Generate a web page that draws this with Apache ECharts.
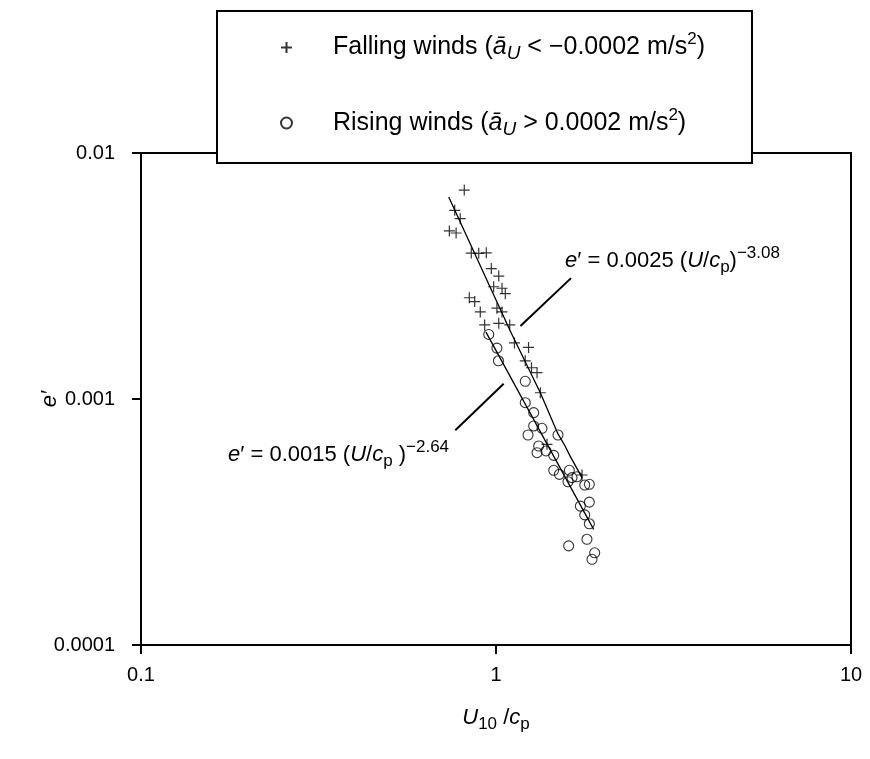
<!DOCTYPE html>
<html><head><meta charset="utf-8">
<script src="https://cdn.jsdelivr.net/npm/echarts@6/dist/echarts.min.js"></script>
<style>html,body{margin:0;padding:0;background:#fff}#c{width:870px;height:759px}</style>
</head><body><div id="c"></div>
<script>
// ---- data ----
const xTickLabels = ['0.1', '1', '10'];
const yTickLabels = ['0.0001', '0.001', '0.01'];

const fallingX = [0.814,0.765,0.793,0.739,0.772,0.852,0.894,0.939,0.970,1.018,0.985,1.040,1.062,0.841,0.871,0.903,1.006,1.040,0.929,1.018,1.093,1.127,1.235,1.209,1.259,1.305,1.333,1.392,1.747];
const fallingY = [0.00707,0.00585,0.00541,0.00482,0.00473,0.00392,0.00391,0.00393,0.00339,0.00316,0.00286,0.00282,0.00268,0.00258,0.00249,0.00226,0.00234,0.00226,0.00200,0.00203,0.00200,0.00169,0.00162,0.00143,0.00134,0.00128,0.00106,0.000654,0.000491];

const risingX = [0.954,1.006,1.016,1.209,1.209,1.277,1.277,1.348,1.231,1.319,1.305,1.383,1.454,1.495,1.454,1.508,1.609,1.595,1.637,1.691,1.778,1.832,1.832,1.728,1.778,1.832,1.804,1.602,1.897,1.864];
const risingY = [0.00183,0.00161,0.00143,0.00118,0.000966,0.00088,0.000777,0.00076,0.000714,0.000644,0.000605,0.000615,0.00059,0.000714,0.000513,0.000494,0.000513,0.000461,0.000479,0.000483,0.000447,0.00045,0.000381,0.000367,0.000338,0.000311,0.000269,0.000253,0.000237,0.000223];

const fallingFitX = [0.736,1.097,1.333,1.495,1.565,1.616,1.747];
const fallingFitY = [0.00663,0.00189,0.00106,0.000721,0.000644,0.000587,0.000479];
const risingFitX = [0.937,1.884];
const risingFitY = [0.00187,0.000295];

const leaderUpperX = [1.172,1.627];
const leaderUpperY = [0.00198,0.0031];
const leaderLowerX = [0.768,1.051];
const leaderLowerY = [0.000746,0.001154];

// ---- chart ----
const zip = (a, b) => a.map((v, i) => [v, b[i]]);
const FF = 'Liberation Sans';
const tickIdx = v => Math.round(Math.log10(v));

function rs(size, italic, pad) {
  const o = { fontFamily: FF, fontSize: size, fontStyle: italic ? 'italic' : 'normal', color: '#000', fill: '#000' };
  if (pad) o.padding = pad;
  return o;
}

const legendRich = {
  b: rs(25, false),
  it: rs(25, true),
  sub: rs(19, true, [13, 0, 0, 0]),
  sup: rs(17, false, [0, 0, 16, 0])
};
const legendText = {
  'Falling winds': '{b|Falling winds (}{it|ā}{sub|U}{b| < −0.0002 m/s}{sup|2}{b|)}',
  'Rising winds': '{b|Rising winds (}{it|ā}{sub|U}{b| > 0.0002 m/s}{sup|2}{b|)}'
};

const annRich = {
  b: rs(22, false),
  it: rs(22, true),
  sub: rs(17, false, [12, 0, 0, 0]),
  sup: rs(17, false, [0, 0, 16, 0])
};

const chart = echarts.init(document.getElementById('c'), null, { renderer: 'canvas' });
chart.setOption({
  animation: false,
  backgroundColor: '#fff',
  grid: { left: 141, right: 19, top: 153, bottom: 114, show: true, borderColor: '#000', borderWidth: 2, backgroundColor: 'transparent' },
  xAxis: {
    type: 'log', logBase: 10, min: 0.1, max: 10,
    name: '{it|U}{sub|10}{b| /}{it|c}{sub|p}',
    nameLocation: 'middle', nameGap: 58,
    nameTextStyle: { lineHeight: 30, rich: { b: rs(22, false), it: rs(22, true), sub: rs(17, false, [12, 0, 0, 0]) } },
    axisLine: { show: true, lineStyle: { color: '#000', width: 2 } },
    axisTick: { show: true, inside: false, length: 9, lineStyle: { color: '#000', width: 2 } },
    minorTick: { show: false },
    splitLine: { show: false },
    axisLabel: { fontFamily: FF, fontSize: 20, color: '#000', margin: 20, formatter: v => xTickLabels[tickIdx(v) + 1] }
  },
  yAxis: {
    type: 'log', logBase: 10, min: 0.0001, max: 0.01,
    name: 'e′', nameLocation: 'middle', nameGap: 80, nameRotate: 90, nameMoveOverlap: false,
    nameTextStyle: { fontFamily: FF, fontSize: 22, fontStyle: 'italic', color: '#000' },
    axisLine: { show: true, lineStyle: { color: '#000', width: 2 } },
    axisTick: { show: true, inside: false, length: 9, lineStyle: { color: '#000', width: 2 } },
    minorTick: { show: false },
    splitLine: { show: false },
    axisLabel: { fontFamily: FF, fontSize: 20, color: '#000', margin: 26, formatter: v => yTickLabels[tickIdx(v) + 4] }
  },
  legend: {
    data: ['Falling winds', 'Rising winds'],
    orient: 'vertical', left: 275, top: 26,
    itemWidth: 11, itemHeight: 11, itemGap: 43,
    selectedMode: false, z: 20,
    formatter: n => legendText[n],
    textStyle: { fontFamily: FF, fontSize: 25, color: '#000', lineHeight: 30, padding: [0, 0, 0, 36], rich: legendRich }
  },
  graphic: [
    { type: 'rect', z: 10, shape: { x: 217, y: 11, width: 535, height: 152 }, style: { fill: '#fff', stroke: '#000', lineWidth: 2 } },
    { type: 'text', z: 10, x: 565, y: 261,
      style: { text: '{it|e}{b|′ = 0.0025 (}{it|U}{b|/}{it|c}{sub|p}{b|)}{sup|−3.08}', rich: annRich, fontFamily: FF, fontSize: 22, fill: '#000', lineHeight: 30, verticalAlign: 'middle', textVerticalAlign: 'middle', align: 'left', textAlign: 'left' } },
    { type: 'text', z: 10, x: 228, y: 455,
      style: { text: '{it|e}{b|′ = 0.0015 (}{it|U}{b|/}{it|c}{sub|p}{b| )}{sup|−2.64}', rich: annRich, fontFamily: FF, fontSize: 22, fill: '#000', lineHeight: 30, verticalAlign: 'middle', textVerticalAlign: 'middle', align: 'left', textAlign: 'left' } }
  ],
  series: [
    { name: 'Falling winds', type: 'scatter', data: zip(fallingX, fallingY),
      symbol: 'path://M0,5L10,5M5,0L5,10', symbolKeepAspect: true, symbolSize: 11,
      itemStyle: { color: 'rgba(0,0,0,0)', borderColor: '#000', borderWidth: 1.2 }, z: 4 },
    { name: 'Rising winds', type: 'scatter', data: zip(risingX, risingY),
      symbol: 'circle', symbolSize: 10,
      itemStyle: { color: 'rgba(0,0,0,0)', borderColor: '#000', borderWidth: 1.1 }, z: 4 },
    { type: 'line', data: zip(fallingFitX, fallingFitY), showSymbol: false, symbol: 'none', silent: true,
      lineStyle: { color: '#000', width: 1.3 }, z: 3 },
    { type: 'line', data: zip(risingFitX, risingFitY), showSymbol: false, symbol: 'none', silent: true,
      lineStyle: { color: '#000', width: 1.3 }, z: 3 },
    { type: 'line', data: zip(leaderUpperX, leaderUpperY), showSymbol: false, symbol: 'none', silent: true,
      lineStyle: { color: '#000', width: 2 }, z: 3 },
    { type: 'line', data: zip(leaderLowerX, leaderLowerY), showSymbol: false, symbol: 'none', silent: true,
      lineStyle: { color: '#000', width: 2 }, z: 3 }
  ]
});
</script>
</body></html>
